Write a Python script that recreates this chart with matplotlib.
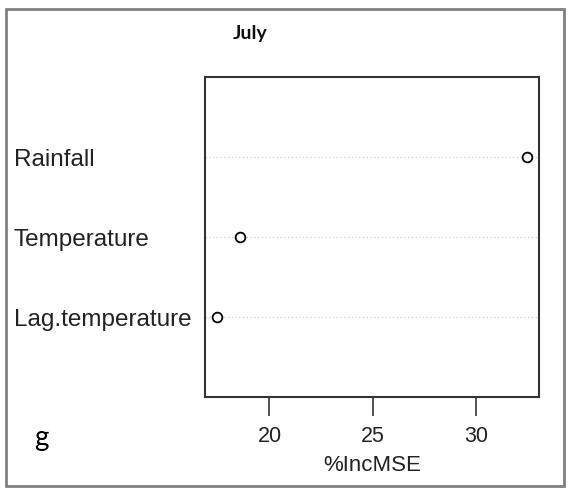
import matplotlib
matplotlib.use("Agg")
import matplotlib.pyplot as plt
from matplotlib.patches import Rectangle

# variable importance (random forest), July
variables = ["Lag.temperature", "Temperature", "Rainfall"]
inc_mse = [17.48, 18.59, 32.43]
xticks = [20, 25, 30]

W, H = 568, 489
fig = plt.figure(figsize=(W/100, H/100), dpi=100)

# outer grey frame round the panel
fig.patches.append(Rectangle((6/W, 2/H), 558/W, 477/H, transform=fig.transFigure,
                             fill=False, edgecolor="#808080", lw=2))

ax = fig.add_axes([205/W, (H-398)/H, (539-205)/W, (398-78)/H])

ypos = list(range(1, len(variables)+1))
for y in ypos:
    ax.axhline(y, color="#cfcfcf", lw=0.9, ls=(0, (1, 2)), zorder=1)
ax.plot(inc_mse, ypos, ls="none", marker="o", ms=7, mfc="white", mec="black", mew=1.3, zorder=3)

# R dotchart style ranges
lo, hi = min(inc_mse), max(inc_mse)
pad = (hi - lo) * 0.04
ax.set_xlim(lo - pad, hi + pad)
ax.set_ylim(0, len(variables) + 1)

ax.set_yticks([])
ax.set_xticks(xticks)
ax.set_xticklabels([str(t) for t in xticks], fontsize=15.5, family="Liberation Sans", color="#222222")
ax.tick_params(axis="x", length=14, width=1.2, pad=6, color="#333333")
for s in ax.spines.values():
    s.set_linewidth(1.5)
    s.set_color("#333333")

# row labels at the far left of the panel
for v, y in zip(variables, ypos):
    yy = ax.transData.transform((0, y))[1] / (fig.dpi * fig.get_figheight())
    fig.text(14/W, yy - 2/H, v, ha="left", va="center", fontsize=17.5,
             family="Liberation Sans", color="#222222")

ax.set_xlabel("%IncMSE", fontsize=16, family="Liberation Sans", color="#222222", labelpad=6)

fig.text(250/W, 1 - 34/H, "July", ha="center", va="center", fontsize=14, fontweight="bold",
         family="Lato", color="#111111")
fig.text(41/W, 1 - 438/H, "g", ha="center", va="center", fontsize=20, family="Lato", color="black")

fig.savefig("out.png", dpi=100)
